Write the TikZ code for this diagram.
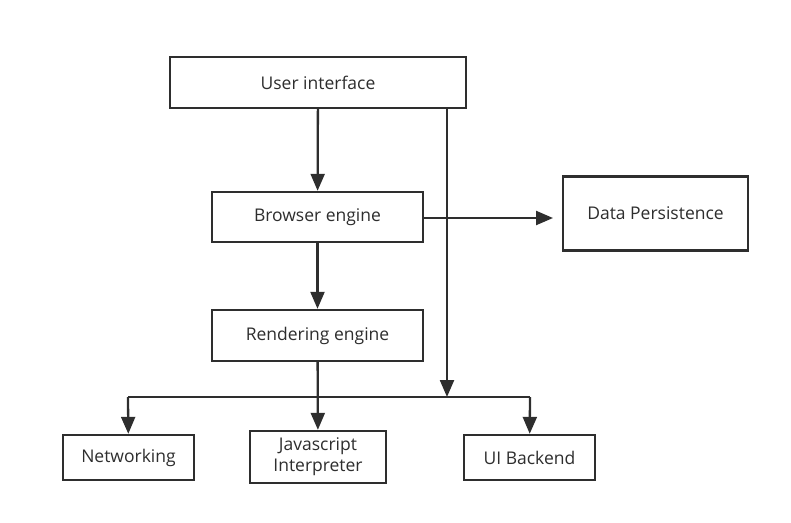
\documentclass[tikz,border=0pt]{standalone}
\usepackage{fontspec}
\setmainfont{Open Sans}
\usepackage{tikz}
\usetikzlibrary{arrows.meta}
\definecolor{ink}{HTML}{2E2E2E}
\newcommand{\tip}{{Triangle[length=17pt,width=14pt]}}
\tikzset{
  part/.style={draw=ink, line width=2.4pt, fill=white, text=ink, align=center,
    inner sep=0pt, font=\fontsize{17.5}{21}\selectfont},
  link/.style={draw=ink, line width=2.3pt, -\tip},
}

\begin{document}
\begin{tikzpicture}[x=1pt,y=-1pt]
      \useasboundingbox (0,0) rectangle (791,522);
          % layers
      \node (ui) at (318,82.5) [part, minimum width=296pt, minimum height=51pt] {User interface};
      \node (be) at (317.5,217) [part, minimum width=211pt, minimum height=50pt] {Browser engine};
      \node (dp) at (655.5,213.5) [part, minimum width=185pt, minimum height=74pt] {Data Persistence};
      \node (re) at (317.5,335.5) [part, minimum width=211pt, minimum height=51pt] {Rendering engine};
          % back ends
      \node (nw) at (128.5,457.5) [part, minimum width=131pt, minimum height=45pt] {Networking};
      \node (js) at (318,457) [part, minimum width=136pt, minimum height=52pt] {Javascript\\Interpreter};
      \node (ub) at (529.5,457.5) [part, minimum width=131pt, minimum height=45pt] {UI Backend};
          % bus
      \coordinate (busl) at (128,397);
      \coordinate (busr) at (530,397);
      \coordinate (bust) at (447,397);
      \coordinate (dpin) at (553,218);
      \draw[draw=ink, line width=2.3pt] (busl) to (busr);
      \draw[link] (ui) to (be);
      \draw[link] (be) to (re);
      \draw[link] (re) to (js);
      \draw[link] (ui.south -| bust) to (bust);
      \draw[link] (be.east |- dpin) to (dpin);
      \draw[link] (busl) to (nw);
      \draw[link] (busr) to (ub);
        \end{tikzpicture}
\end{document}
